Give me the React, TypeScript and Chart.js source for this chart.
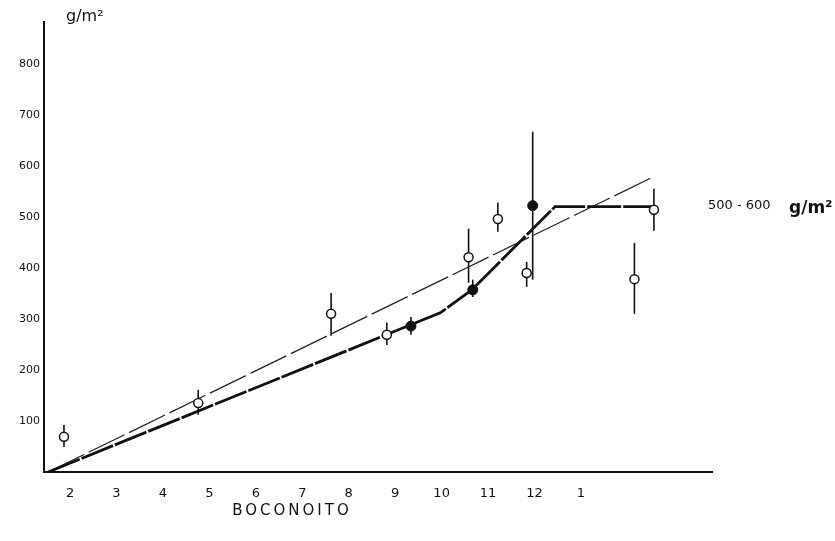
import { useEffect, useRef } from "react";
import { Chart, registerables } from "chart.js";
Chart.register(...registerables);

const monthTicks = [2, 3, 4, 5, 6, 7, 8, 9, 10, 11, 12, 13];
const monthLabels = ["2", "3", "4", "5", "6", "7", "8", "9", "10", "11", "12", "1"];
const yTicks = [100, 200, 300, 400, 500, 600, 700, 800];

const openX = [1.87, 4.76, 7.62, 8.82, 10.58, 11.21, 11.83, 14.15, 14.57];
const openY = [69, 135, 310, 269, 421, 496, 390, 378, 514];
const openLow = [49, 112, 267, 249, 371, 471, 363, 310, 473];
const openHigh = [92, 161, 351, 293, 477, 528, 412, 449, 555];

const filledX = [9.34, 10.67, 11.96];
const filledY = [286, 357, 522];
const filledLow = [269, 343, 377];
const filledHigh = [304, 377, 667];

const thickX = [1.53, 9.97, 10.65, 12.44, 14.57];
const thickY = [0, 312, 357, 520, 520];
const thinX = [1.53, 14.59];
const thinY = [0, 580];

const FONT = "'DejaVu Sans', sans-serif";

const zip = (xs: number[], ys: number[]) => xs.map((x, i) => ({ x, y: ys[i] }));

const errorBars = {
  id: "errorBars",
  beforeDatasetsDraw(chart: any) {
    const { ctx, scales } = chart;
    const xs = scales.x, ys = scales.y;
    ctx.save();
    ctx.strokeStyle = "#111";
    ctx.lineWidth = 1.6;
    chart.data.datasets.forEach((ds: any) => {
      if (!ds.errLow) return;
      ds.data.forEach((p: any, i: number) => {
        const x = xs.getPixelForValue(p.x);
        ctx.beginPath();
        ctx.moveTo(x, ys.getPixelForValue(ds.errLow[i]));
        ctx.lineTo(x, ys.getPixelForValue(ds.errHigh[i]));
        ctx.stroke();
      });
    });
    ctx.restore();
  },
  afterDraw(chart: any) {
    const { ctx, chartArea } = chart;
    ctx.save();
    ctx.fillStyle = "#111";
    ctx.textBaseline = "middle";
    ctx.font = `16px ${FONT}`;
    ctx.textAlign = "left";
    ctx.fillText("g/m²", chartArea.left + 22, 17);
    ctx.font = `15px ${FONT}`;
    (ctx as any).letterSpacing = "3px";
    ctx.textAlign = "center";
    ctx.fillText("BOCONOITO", 292, 511);
    (ctx as any).letterSpacing = "0px";
    ctx.textAlign = "left";
    ctx.font = `13px ${FONT}`;
    ctx.fillText("500 - 600", 708, 206);
    ctx.font = `bold 17px ${FONT}`;
    ctx.fillText("g/m²", 789, 209);
    ctx.restore();
  },
};

export default function App() {
  const ref = useRef<HTMLCanvasElement>(null);
  useEffect(() => {
    document.body.style.margin = "0";
    const chart = new Chart(ref.current!, {
      type: "line",
      data: {
        datasets: [
          {
            type: "scatter",
            data: zip(openX, openY),
            errLow: openLow,
            errHigh: openHigh,
            pointRadius: 4.5,
            pointBackgroundColor: "#fff",
            pointBorderColor: "#111",
            pointBorderWidth: 1.5,
            showLine: false,
            order: 0,
          } as any,
          {
            type: "scatter",
            data: zip(filledX, filledY),
            errLow: filledLow,
            errHigh: filledHigh,
            pointRadius: 5,
            pointBackgroundColor: "#111",
            pointBorderColor: "#111",
            showLine: false,
            order: 0,
          } as any,
          {
            data: zip(thickX, thickY),
            borderColor: "#111",
            borderWidth: 2.8,
            borderDash: [34, 2],
            pointRadius: 0,
            tension: 0,
            order: 1,
          },
          {
            data: zip(thinX, thinY),
            borderColor: "#222",
            borderWidth: 1.3,
            borderDash: [40, 5],
            pointRadius: 0,
            tension: 0,
            order: 1,
          },
        ],
      },
      options: {
        responsive: false,
        animation: false,
        layout: { padding: { left: 0, top: 22, right: 123, bottom: 0 } },
        plugins: { legend: { display: false }, tooltip: { enabled: false } },
        scales: {
          x: {
            type: "linear",
            min: 1.44,
            max: 15.82,
            afterBuildTicks: (s: any) => {
              s.ticks = monthTicks.map((v) => ({ value: v }));
            },
            afterFit: (s: any) => {
              s.height = 69;
            },
            ticks: {
              callback: (_v: any, i: number) => monthLabels[i],
              font: { family: FONT, size: 13 },
              color: "#111",
              padding: 14,
              maxRotation: 0,
              autoSkip: false,
            },
            grid: { display: false, drawTicks: false },
            border: { color: "#111", width: 2 },
          },
          y: {
            type: "linear",
            min: 0,
            max: 882,
            afterBuildTicks: (s: any) => {
              s.ticks = yTicks.map((v) => ({ value: v }));
            },
            afterFit: (s: any) => {
              s.width = 44;
            },
            ticks: {
              font: { family: FONT, size: 11 },
              color: "#111",
              padding: 4,
            },
            grid: { display: false, drawTicks: false },
            border: { color: "#111", width: 2 },
          },
        },
      },
      plugins: [errorBars],
    } as any);
    return () => chart.destroy();
  }, []);
  return <canvas ref={ref} width={835} height={541} style={{ display: "block" }} />;
}
